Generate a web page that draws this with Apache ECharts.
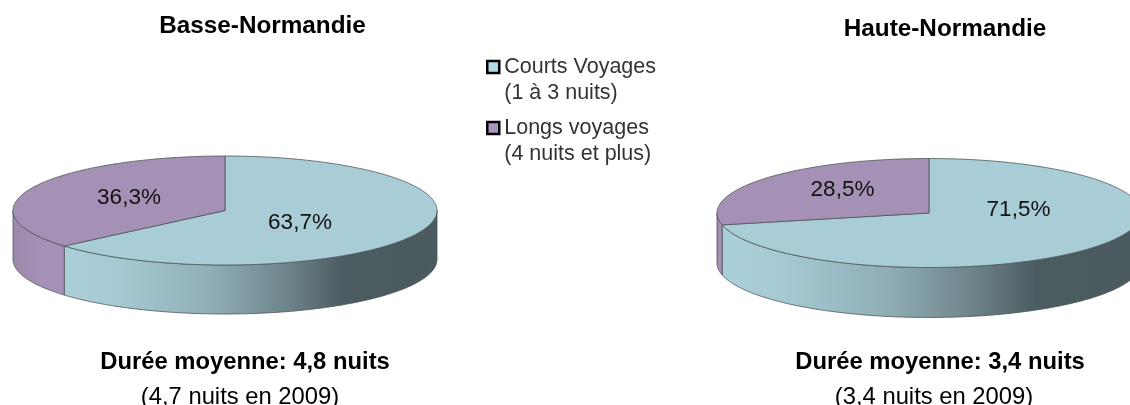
<!DOCTYPE html>
<html><head><meta charset="utf-8">
<style>html,body{margin:0;padding:0;background:#fff}#c{width:1130px;height:405px}</style>
<script src="https://cdn.jsdelivr.net/npm/echarts@6/dist/echarts.min.js"></script>
</head><body><div id="c"></div>
<script>
const regions = ['Basse-Normandie', 'Haute-Normandie'];
const durations = ['Durée moyenne: 4,8 nuits', 'Durée moyenne: 3,4 nuits'];
const previous = ['(4,7 nuits en 2009)', '(3,4 nuits en 2009)'];
const courts = [63.7, 71.5];
const longs = [36.3, 28.5];
const legendNames = ['Courts Voyages\n(1 à 3 nuits)', 'Longs voyages\n(4 nuits et plus)'];

const pies = [
  {cx: 225, cy: 210.5, a: 212, b: 54.5, depth: 49, titleX: 262.5, titleY: 26.5, footX: 245, prevX: 240, lab: [[300, 222.5], [129, 197.5]]},
  {cx: 929, cy: 213, a: 212, b: 54.5, depth: 50, titleX: 945, titleY: 29.5, footX: 940, prevX: 934, lab: [[1018.5, 209.5], [842.5, 189.5]]}
];
const FONT = '"Liberation Sans", Arial, sans-serif';
const sideBlue = [[0,'#a9cfd9'],[0.14,'#a6cad4'],[0.4,'#8fadb5'],[0.6,'#6d838a'],[0.75,'#4b5c61'],[1,'#4a5a5f']];
const sidePurple = [[0,'#9b88aa'],[0.5,'#a591b6'],[1,'#a591b6']];
const D = Math.PI / 180;

function pt(p, deg, dy) {
  return [p.cx + p.a * Math.sin(deg * D), p.cy - p.b * Math.cos(deg * D) + (dy || 0)];
}
function arc(p, from, to, dy) {
  const out = [];
  const n = Math.max(2, Math.ceil(Math.abs(to - from) * 1.5));
  for (let i = 0; i <= n; i++) out.push(pt(p, from + (to - from) * i / n, dy));
  return out;
}
function makeRender(seriesIdx, fill, sideStops) {
  return function (params, api) {
    const r = api.value(0), val = api.value(1), p = pies[r];
    const total = courts[r] + longs[r];
    const sweep = val / total * 360;
    const from = seriesIdx === 0 ? 0 : courts[r] / total * 360;
    const to = from + sweep;
    const children = [];
    const s0 = Math.max(from, 90), s1 = Math.min(to, 270);
    if (s1 > s0) {
      const top = arc(p, s0, s1, 0), bot = arc(p, s1, s0, p.depth);
      children.push({type: 'polygon', shape: {points: top.concat(bot)},
        style: {fill: new echarts.graphic.LinearGradient(0, 0, 1, 0, sideStops.map(s => ({offset: s[0], color: s[1]}))),
                stroke: '#4d5557', lineWidth: 0.8}});
    }
    children.push({type: 'polygon', shape: {points: [[p.cx, p.cy]].concat(arc(p, from, to, 0))},
      style: {fill: fill, stroke: '#4d5557', lineWidth: 0.8}});
    children.push({type: 'text', z2: 10, style: {
      x: p.lab[seriesIdx][0], y: p.lab[seriesIdx][1], align: 'center', verticalAlign: 'middle',
      text: val.toFixed(1).replace('.', ',') + '%', fill: '#111', font: '22.5px ' + FONT}});
    return {type: 'group', children: children};
  };
}
const titles = [];
regions.forEach((t, i) => {
  titles.push({text: t, left: pies[i].titleX, top: pies[i].titleY, textAlign: 'center', textVerticalAlign: 'middle',
    textStyle: {fontFamily: FONT, fontSize: 24.3, fontWeight: 'bold', color: '#000'}, padding: 0});
  titles.push({text: durations[i], left: pies[i].footX, top: 362.5, textAlign: 'center', textVerticalAlign: 'middle',
    textStyle: {fontFamily: FONT, fontSize: 23.8, fontWeight: 'bold', color: '#000'}, padding: 0});
  titles.push({text: previous[i], left: pies[i].prevX, top: 397, textAlign: 'center', textVerticalAlign: 'middle',
    textStyle: {fontFamily: FONT, fontSize: 23.8, fontWeight: 'normal', color: '#000'}, padding: 0});
});
const chart = echarts.init(document.getElementById('c'), null, {renderer: 'canvas'});
chart.setOption({
  animation: false,
  backgroundColor: '#fff',
  title: titles,
  legend: {
    left: 486, top: 28, orient: 'vertical', selectedMode: false, itemWidth: 12, itemHeight: 12, itemGap: -17,
    padding: 0,
    formatter: name => '\n' + name,
    itemStyle: {borderColor: '#000', borderWidth: 2.5},
    textStyle: {fontFamily: FONT, fontSize: 21.5, color: '#333', lineHeight: 26},
    data: [{name: legendNames[0], icon: 'rect', itemStyle: {color: '#b3dce6'}},
           {name: legendNames[1], icon: 'rect', itemStyle: {color: '#ab97bd'}}]
  },
  series: [
    {type: 'custom', name: legendNames[0], coordinateSystem: 'none', itemStyle: {color: '#a9cdd7'},
     renderItem: makeRender(0, '#a9cdd7', sideBlue), data: courts.map((v, i) => [i, v])},
    {type: 'custom', name: legendNames[1], coordinateSystem: 'none', itemStyle: {color: '#a591b6'},
     renderItem: makeRender(1, '#a591b6', sidePurple), data: longs.map((v, i) => [i, v])}
  ]
});
</script></body></html>
